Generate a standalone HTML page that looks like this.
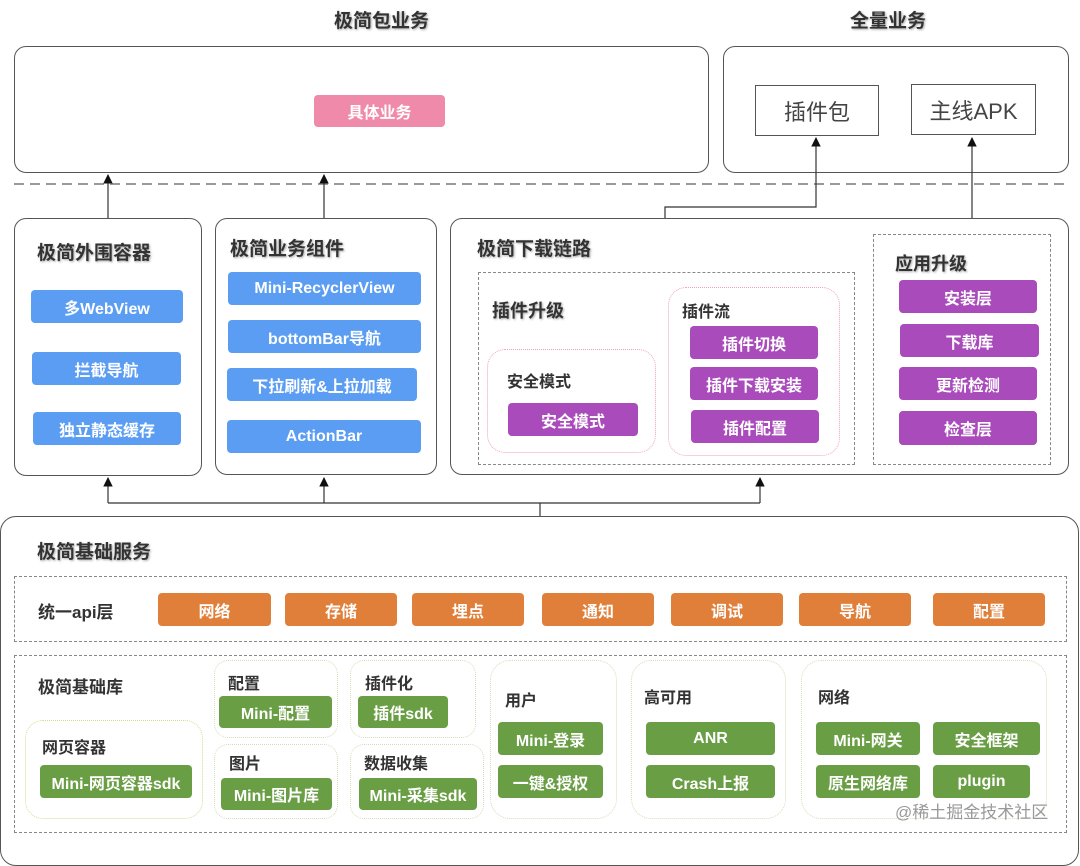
<!DOCTYPE html>
<html><head><meta charset="utf-8"><style>
*{margin:0;padding:0;box-sizing:border-box}
body{width:1080px;height:844px;background:#fff;position:relative;overflow:hidden;font-family:"Liberation Sans","Noto Sans CJK SC",sans-serif;color:#333}
.a{position:absolute}
.box{position:absolute;border:1.5px solid #555;border-radius:12px;background:#fff}
.dash{position:absolute;border:1.5px dashed #888}
.sub{position:absolute;border:1px dotted #cfe0b8;border-radius:14px}
.pk{position:absolute;border:1px dotted #f0a0b8;border-radius:18px}
.b{position:absolute;color:#fff;font-weight:bold;font-size:16px;display:flex;align-items:center;justify-content:center;border-radius:4px;white-space:nowrap}
.bl{background:#5b9df2}.pu{background:#a94bbb}.or{background:#e07f3a}.gr{background:#6a9e45}
.t{position:absolute;font-weight:bold;white-space:nowrap;color:#333}
.h{font-size:19px;text-shadow:1px 1px 2px #aaa}
.s{font-size:16px}
</style></head><body>
<div class="t h" style="left:334px;top:6px">极简包业务</div>
<div class="t h" style="left:850px;top:6px">全量业务</div>

<div class="box" style="left:14px;top:46px;width:695px;height:127px"></div>
<div class="b" style="left:314px;top:95px;width:131px;height:32px;background:#ef8aaa">具体业务</div>
<div class="box" style="left:723px;top:46px;width:346px;height:127px"></div>
<div class="a" style="left:755px;top:85px;width:124px;height:51px;border:1.5px solid #555;font-size:22px;color:#444;display:flex;align-items:center;justify-content:center">插件包</div>
<div class="a" style="left:911px;top:84px;width:125px;height:51px;border:1.5px solid #555;font-size:22px;color:#444;display:flex;align-items:center;justify-content:center">主线APK</div>

<svg class="a" style="left:0;top:0" width="1080" height="844">
<defs><marker id="ar" markerWidth="8" markerHeight="8" refX="4" refY="7" orient="auto-start-reverse"><path d="M0,8 L4,0 L8,8z" fill="#111"/></marker>
<marker id="au" viewBox="0 0 10 10" markerWidth="8" markerHeight="8" refX="5" refY="1" orient="0"><path d="M0,10 L5,0 L10,10z" fill="#111"/></marker></defs>
<line x1="14" y1="184" x2="1068" y2="184" stroke="#999" stroke-width="2" stroke-dasharray="10,6"/>
<g stroke="#333" stroke-width="1.2" fill="none">
<line x1="108" y1="218" x2="108" y2="175" marker-end="url(#au)"/>
<line x1="324" y1="218" x2="324" y2="175" marker-end="url(#au)"/>
<polyline points="665,272 665,207 816,207 816,138" marker-end="url(#au)"/>
<line x1="972" y1="234" x2="972" y2="138" marker-end="url(#au)"/>
<polyline points="540,516 540,503"/>
<line x1="108" y1="503" x2="760" y2="503"/>
<line x1="108" y1="503" x2="108" y2="478" marker-end="url(#au)"/>
<line x1="324" y1="503" x2="324" y2="478" marker-end="url(#au)"/>
<line x1="760" y1="503" x2="760" y2="478" marker-end="url(#au)"/>
</g>
</svg>

<div class="box" style="left:14px;top:218px;width:188px;height:258px"></div>
<div class="t h" style="left:37px;top:238px">极简外围容器</div>
<div class="b bl" style="left:31px;top:290px;width:152px;height:33px">多WebView</div>
<div class="b bl" style="left:32px;top:352px;width:149px;height:33px">拦截导航</div>
<div class="b bl" style="left:33px;top:412px;width:148px;height:33px">独立静态缓存</div>

<div class="box" style="left:215px;top:218px;width:222px;height:257px"></div>
<div class="t h" style="left:230px;top:234px">极简业务组件</div>
<div class="b bl" style="left:228px;top:272px;width:193px;height:33px">Mini-RecyclerView</div>
<div class="b bl" style="left:228px;top:320px;width:193px;height:33px">bottomBar导航</div>
<div class="b bl" style="left:227px;top:368px;width:190px;height:33px">下拉刷新&amp;上拉加载</div>
<div class="b bl" style="left:227px;top:420px;width:194px;height:33px">ActionBar</div>

<div class="box" style="left:450px;top:218px;width:619px;height:257px"></div>
<div class="t h" style="left:477px;top:234px">极简下载链路</div>
<div class="dash" style="left:478px;top:272px;width:377px;height:193px;background:#fff"></div>
<div class="t h" style="left:492px;top:297px;font-size:18px">插件升级</div>
<div class="pk" style="left:487px;top:349px;width:169px;height:104px"></div>
<div class="t s" style="left:507px;top:368px">安全模式</div>
<div class="b pu" style="left:508px;top:403px;width:130px;height:33px">安全模式</div>
<div class="pk" style="left:668px;top:287px;width:172px;height:169px"></div>
<div class="t s" style="left:682px;top:298px">插件流</div>
<div class="b pu" style="left:690px;top:326px;width:128px;height:33px">插件切换</div>
<div class="b pu" style="left:690px;top:367px;width:128px;height:33px">插件下载安装</div>
<div class="b pu" style="left:691px;top:410px;width:128px;height:33px">插件配置</div>
<div class="dash" style="left:873px;top:234px;width:178px;height:231px"></div>
<div class="t h" style="left:895px;top:250px;font-size:18px">应用升级</div>
<div class="b pu" style="left:899px;top:280px;width:138px;height:33px">安装层</div>
<div class="b pu" style="left:900px;top:324px;width:139px;height:33px">下载库</div>
<div class="b pu" style="left:899px;top:367px;width:138px;height:33px">更新检测</div>
<div class="b pu" style="left:899px;top:411px;width:138px;height:34px">检查层</div>

<div class="box" style="left:0px;top:516px;width:1079px;height:350px;border-radius:16px"></div>
<div class="t h" style="left:37px;top:537px">极简基础服务</div>
<div class="dash" style="left:14px;top:576px;width:1053px;height:66px"></div>
<div class="t s" style="left:38px;top:598px;font-size:17px">统一api层</div>
<div class="b or" style="left:158px;top:593px;width:113px;height:33px">网络</div>
<div class="b or" style="left:285px;top:593px;width:112px;height:33px">存储</div>
<div class="b or" style="left:412px;top:593px;width:112px;height:33px">埋点</div>
<div class="b or" style="left:542px;top:593px;width:112px;height:33px">通知</div>
<div class="b or" style="left:671px;top:593px;width:112px;height:33px">调试</div>
<div class="b or" style="left:799px;top:593px;width:112px;height:33px">导航</div>
<div class="b or" style="left:933px;top:593px;width:112px;height:33px">配置</div>

<div class="dash" style="left:14px;top:655px;width:1053px;height:178px"></div>
<div class="t s" style="left:38px;top:673px;font-size:17px">极简基础库</div>
<div class="sub" style="left:25px;top:720px;width:178px;height:99px;border-color:#d8d890;border-radius:18px"></div>
<div class="t s" style="left:42px;top:734px">网页容器</div>
<div class="b gr" style="left:40px;top:765px;width:152px;height:33px">Mini-网页容器sdk</div>
<div class="sub" style="left:214px;top:660px;width:124px;height:78px"></div>
<div class="t s" style="left:228px;top:670px">配置</div>
<div class="b gr" style="left:219px;top:696px;width:113px;height:32px">Mini-配置</div>
<div class="sub" style="left:214px;top:744px;width:124px;height:75px"></div>
<div class="t s" style="left:229px;top:750px">图片</div>
<div class="b gr" style="left:221px;top:778px;width:111px;height:32px">Mini-图片库</div>
<div class="sub" style="left:350px;top:660px;width:126px;height:78px"></div>
<div class="t s" style="left:365px;top:670px">插件化</div>
<div class="b gr" style="left:358px;top:696px;width:90px;height:32px">插件sdk</div>
<div class="sub" style="left:350px;top:744px;width:134px;height:75px"></div>
<div class="t s" style="left:364px;top:750px">数据收集</div>
<div class="b gr" style="left:359px;top:778px;width:118px;height:32px">Mini-采集sdk</div>
<div class="sub" style="left:490px;top:660px;width:127px;height:159px;border-radius:20px"></div>
<div class="t s" style="left:505px;top:687px">用户</div>
<div class="b gr" style="left:498px;top:722px;width:105px;height:33px">Mini-登录</div>
<div class="b gr" style="left:498px;top:765px;width:105px;height:33px">一键&amp;授权</div>
<div class="sub" style="left:631px;top:660px;width:155px;height:159px;border-radius:20px"></div>
<div class="t s" style="left:644px;top:684px">高可用</div>
<div class="b gr" style="left:646px;top:722px;width:129px;height:33px">ANR</div>
<div class="b gr" style="left:646px;top:765px;width:129px;height:33px">Crash上报</div>
<div class="sub" style="left:801px;top:660px;width:246px;height:159px;border-radius:20px"></div>
<div class="t s" style="left:818px;top:684px">网络</div>
<div class="b gr" style="left:816px;top:722px;width:104px;height:33px">Mini-网关</div>
<div class="b gr" style="left:933px;top:722px;width:107px;height:33px">安全框架</div>
<div class="b gr" style="left:816px;top:765px;width:104px;height:33px">原生网络库</div>
<div class="b gr" style="left:933px;top:765px;width:97px;height:33px">plugin</div>
<div class="a" style="left:895px;top:798px;font-size:17px;color:#999">@稀土掘金技术社区</div>
</body></html>
